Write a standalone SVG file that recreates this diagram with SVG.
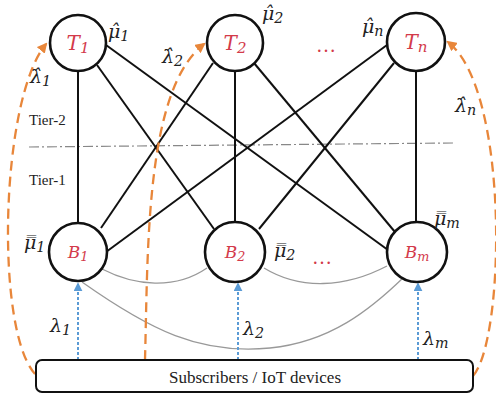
<svg xmlns="http://www.w3.org/2000/svg" width="496" height="398" viewBox="0 0 496 398">
<style>
.node{fill:#fff;stroke:#111;stroke-width:2.6}
.edge{stroke:#111;stroke-width:2;fill:none}
.curve{stroke:#999;stroke-width:1.3;fill:none}
.blue{stroke:#5b9bd5;stroke-width:2;stroke-dasharray:3 2;fill:none}
.orange{stroke:#e8863a;stroke-width:2.3;stroke-dasharray:10 6;fill:none}
.tier{stroke:#888;stroke-width:1.2;stroke-dasharray:10 3 2 3;fill:none}
.lbl{font-family:"DejaVu Serif","Liberation Serif",serif;font-style:italic;fill:#222}
.nl{font-family:"DejaVu Serif","Liberation Serif",serif;font-style:italic;fill:#d33a4a;text-anchor:middle}
.sub{font-size:75%}
.txt{font-family:"Liberation Serif",serif;fill:#222}
.dots{font-family:"Liberation Serif",serif;fill:#d33a4a;font-size:20px;text-anchor:middle}
</style>
<defs>
<marker id="ao" viewBox="0 0 10 10" refX="8" refY="5" markerWidth="4.5" markerHeight="4.5" orient="auto">
<path d="M0,0 L10,5 L0,10 z" fill="#e8863a"/>
</marker>
<marker id="ab" viewBox="0 0 10 10" refX="8" refY="5" markerWidth="4.5" markerHeight="4.5" orient="auto">
<path d="M0,0 L10,5 L0,10 z" fill="#5b9bd5"/>
</marker>
</defs>
<g id="connectors">
<line class="tier" x1="29" y1="147" x2="453" y2="143"/>
<line class="edge" x1="78" y1="71" x2="78" y2="223"/>
<line class="edge" x1="97" y1="65" x2="214" y2="229"/>
<line class="edge" x1="106" y1="45" x2="388" y2="250"/>
<line class="edge" x1="213" y1="63" x2="101" y2="228"/>
<line class="edge" x1="235" y1="71" x2="235" y2="223"/>
<line class="edge" x1="254" y1="63" x2="395" y2="232"/>
<line class="edge" x1="387" y1="45" x2="106" y2="252"/>
<line class="edge" x1="394" y1="63" x2="259" y2="229"/>
<line class="edge" x1="416" y1="71" x2="416" y2="223"/>
<path class="curve" d="M102,269 C135,286 175,290 207,268"/>
<path class="curve" d="M264,268 C300,290 345,288 387,266"/>
<path class="curve" d="M82,282 C150,330 200,355 270,348 C330,342 370,310 404,277"/>
<line class="blue" x1="78" y1="360" x2="78" y2="284" marker-end="url(#ab)"/>
<line class="blue" x1="238" y1="360" x2="238" y2="284" marker-end="url(#ab)"/>
<line class="blue" x1="418" y1="360" x2="418" y2="284" marker-end="url(#ab)"/>
<path class="orange" d="M35,374 C-5,330 0,100 46,44" marker-end="url(#ao)"/>
<path class="orange" d="M145,360 C148,250 145,90 204,44" marker-end="url(#ao)"/>
<path class="orange" d="M473,376 C505,340 510,90 448,42" marker-end="url(#ao)"/>
</g>
<g id="T1"><circle class="node" cx="78" cy="43" r="28"/><text class="nl" x="78" y="50" font-size="20">T<tspan class="sub" dy="3">1</tspan></text></g>
<g id="T2"><circle class="node" cx="235" cy="43" r="28"/><text class="nl" x="235" y="50" font-size="20">T<tspan class="sub" dy="3">2</tspan></text></g>
<g id="Tn"><circle class="node" cx="416" cy="42" r="29"/><text class="nl" x="416" y="49" font-size="20">T<tspan class="sub" dy="3">n</tspan></text></g>
<g id="B1"><circle class="node" cx="78" cy="252" r="29"/><text class="nl" x="78" y="258" font-size="17">B<tspan class="sub" dy="3">1</tspan></text></g>
<g id="B2"><circle class="node" cx="235" cy="252" r="30"/><text class="nl" x="235" y="258" font-size="17">B<tspan class="sub" dy="3">2</tspan></text></g>
<g id="Bm"><circle class="node" cx="417" cy="252" r="30"/><text class="nl" x="417" y="258" font-size="17">B<tspan class="sub" dy="3">m</tspan></text></g>
<g id="box"><rect x="36" y="360" width="437" height="32" rx="6" fill="#fff" stroke="#111" stroke-width="2"/><text class="txt" x="255" y="383" font-size="17" text-anchor="middle">Subscribers / IoT devices</text></g>
<g id="labels">
<text class="txt" x="29" y="125" font-size="15">Tier-2</text>
<text class="txt" x="29" y="185" font-size="15">Tier-1</text>
<text class="dots" x="326" y="52">…</text>
<text class="dots" x="322" y="264">…</text>
<text class="lbl" x="108" y="38" font-size="19">μ̂<tspan class="sub" dy="3">1</tspan></text>
<text class="lbl" x="262" y="20" font-size="19">μ̂<tspan class="sub" dy="3">2</tspan></text>
<text class="lbl" x="362" y="33" font-size="19">μ̂<tspan class="sub" dy="3">n</tspan></text>
<text class="lbl" x="30" y="83" font-size="19">λ̂<tspan class="sub" dy="3">1</tspan></text>
<text class="lbl" x="162" y="63" font-size="19">λ̂<tspan class="sub" dy="3">2</tspan></text>
<text class="lbl" x="455" y="112" font-size="19">λ̂<tspan class="sub" dy="3">n</tspan></text>
<text class="lbl" x="24" y="249" font-size="19">μ̿<tspan class="sub" dy="3">1</tspan></text>
<text class="lbl" x="274" y="257" font-size="19">μ̿<tspan class="sub" dy="3">2</tspan></text>
<text class="lbl" x="434" y="225" font-size="19">μ̿<tspan class="sub" dy="3">m</tspan></text>
<text class="lbl" x="50" y="332" font-size="19">λ<tspan class="sub" dy="3">1</tspan></text>
<text class="lbl" x="243" y="335" font-size="19">λ<tspan class="sub" dy="3">2</tspan></text>
<text class="lbl" x="423" y="345" font-size="19">λ<tspan class="sub" dy="3">m</tspan></text>
</g>
</svg>
